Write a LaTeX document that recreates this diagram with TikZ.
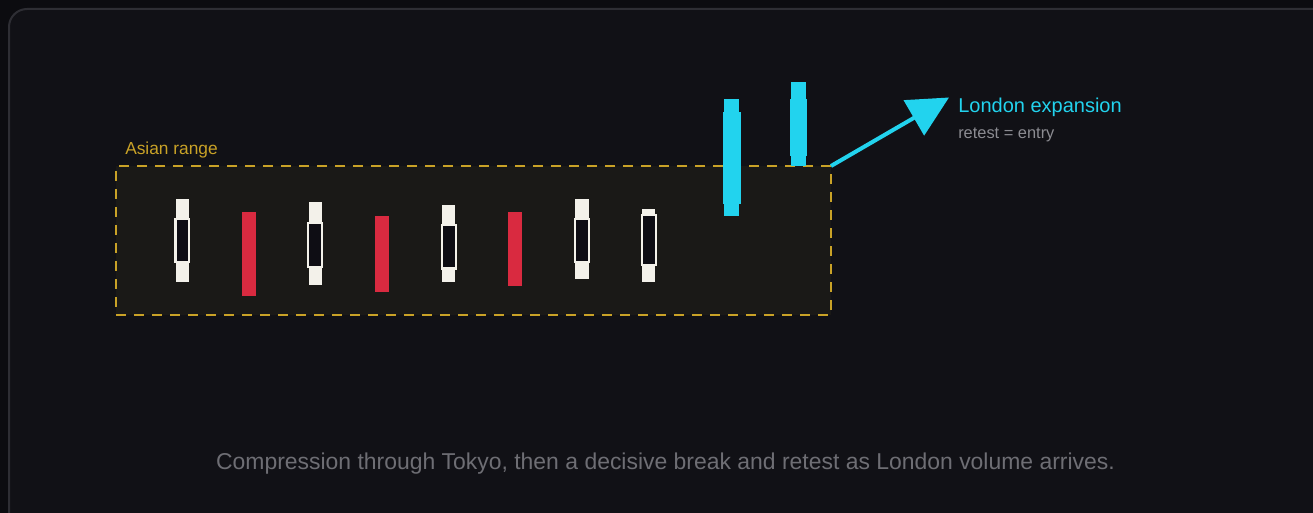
\documentclass[tikz,border=0pt]{standalone}
\usepackage{fontspec}
\setmainfont{Liberation Sans}
\usetikzlibrary{arrows.meta}
\definecolor{bgout}{HTML}{0C0C10}
\definecolor{panel}{HTML}{111116}
\definecolor{panelline}{HTML}{2E2E34}
\definecolor{boxfill}{HTML}{1A1917}
\definecolor{gold}{HTML}{C9A227}
\definecolor{candlew}{HTML}{F3F1EA}
\definecolor{candledark}{HTML}{0E0D14}
\definecolor{candler}{HTML}{D92A40}
\definecolor{cyanc}{HTML}{22D3EE}
\definecolor{subgray}{HTML}{8C8C92}
\definecolor{capgray}{HTML}{6E6E74}
\tikzset{
  rangebox/.style={draw=gold, fill=boxfill, line width=1.5pt, dash pattern=on 7.5pt off 6pt},
  lbl/.style={inner sep=0pt, anchor=base west},
}
\begin{document}
\begin{tikzpicture}[x=0.75pt,y=-0.75pt]
\useasboundingbox (0,0) rectangle (1313,513);
\fill[bgout] (0,0) rectangle (1313,513);
\begin{scope}
\clip (0,0) rectangle (1313,513);
\draw[panelline, fill=panel, line width=1.5pt, rounded corners=13.5pt] (9,9) rectangle (1340,540);
\end{scope}
% Asian range box
\node[rangebox, minimum width=536.25pt, minimum height=111.75pt, inner sep=0pt, outer sep=0pt, anchor=north west] (asia) at (116,166) {};
\node[lbl, text=gold, font=\fontsize{13}{15}\selectfont] (asialbl) at (125,155) {Asian range};
% bullish candles: wick left, wick right, wick top, wick bottom, body top, body bottom
\foreach \wl/\wr/\wt/\wb/\bt/\bb in {175.7/188.7/199/282/218/263, 308.5/321.5/202/285/222/268, 442/455.3/205.3/282.3/224.3/269.7, 575.3/588.7/199/278.7/218/263, 642/655.3/209/282.3/214.3/266.3}{
  \fill[candlew] (\wl,\wt) rectangle (\wr,\wb);
  \fill[candlew] (\wl-1.5,\bt) rectangle (\wr+1.5,\bb);
  \fill[candledark] (\wl+0.8,\bt+2.2) rectangle (\wr-0.8,\bb-2.2);
}
% bearish candles
\foreach \l/\r/\t/\b in {242/256/212/296, 375/388.5/216/292, 508.3/521.7/212.3/285.7}{
  \fill[candler] (\l,\t) rectangle (\r,\b);
}
% London candles
\foreach \wl/\wr/\wt/\wb/\bt/\bb in {724.3/739.3/99/215.7/112/204, 791/806/82.3/165.7/99/155.7}{
  \fill[cyanc] (\wl,\wt) rectangle (\wr,\wb);
  \fill[cyanc] (\wl-1.2,\bt) rectangle (\wr+1.2,\bb);
}
% arrow
\coordinate (tip) at (949,97.5);
\draw[cyanc, line width=3pt, -{Triangle[length=30.5pt,width=30pt]}] (asia.north east) -- (tip);
\node[lbl, text=cyanc, font=\fontsize{15}{17}\selectfont] (london) at (958,112.3) {London expansion};
\node[lbl, text=subgray, font=\fontsize{12.3}{14}\selectfont] (retest) at (958,138.3) {retest = entry};
\node[inner sep=0pt, anchor=base, text=capgray, font=\fontsize{17.2}{20}\selectfont] (caption) at (665.5,469.5) {Compression through Tokyo, then a decisive break and retest as London volume arrives.};
\end{tikzpicture}
\end{document}
